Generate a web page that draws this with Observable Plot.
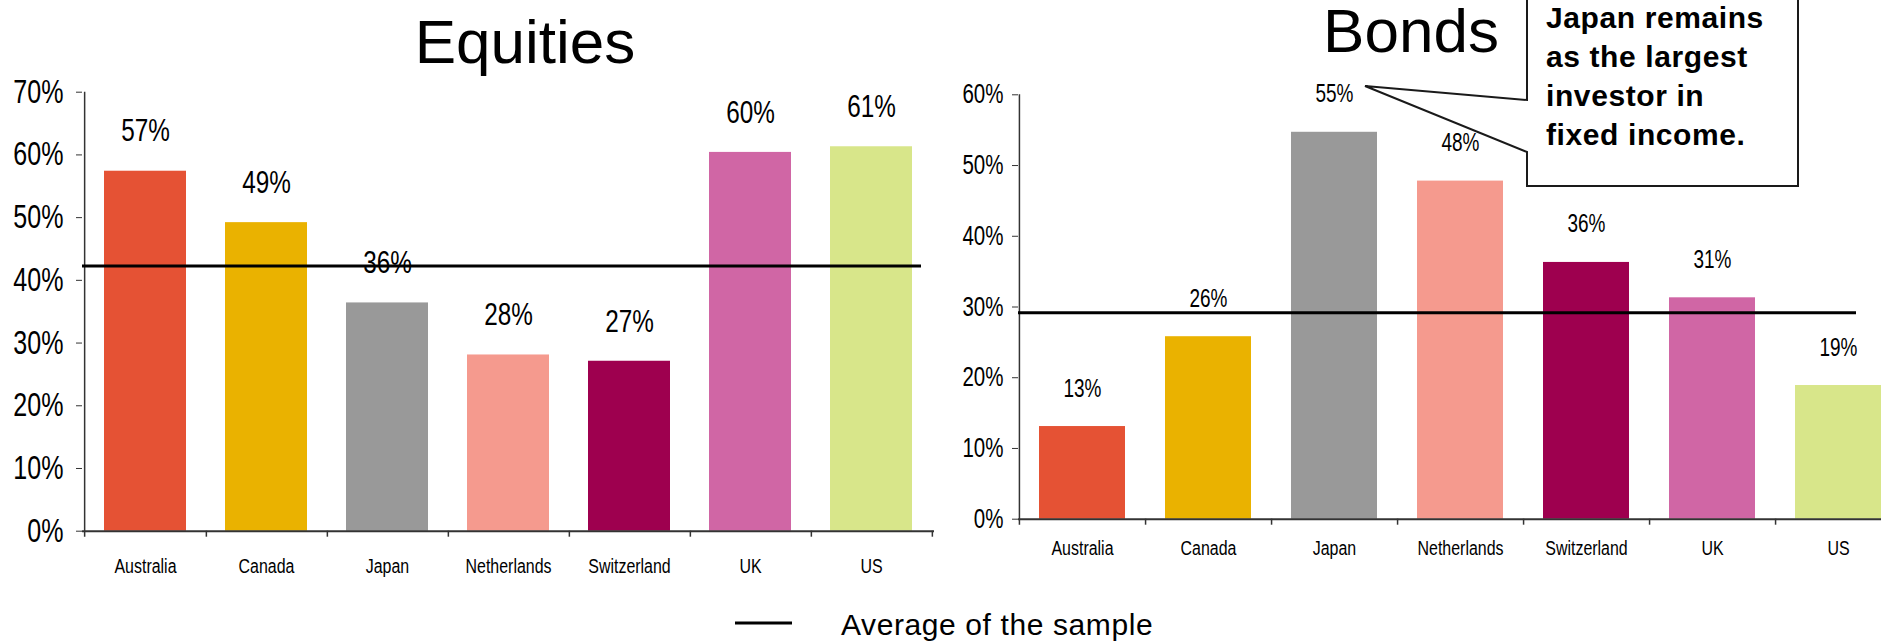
<!DOCTYPE html>
<html><head><meta charset="utf-8">
<script src="https://cdn.jsdelivr.net/npm/d3@7"></script>
<script src="https://cdn.jsdelivr.net/npm/@observablehq/plot@0.6"></script>
<style>
html,body{margin:0;padding:0;background:#fff;overflow:hidden;}
#wrap{position:relative;width:1881px;height:641px;overflow:hidden;background:#fff;}
.chart{position:absolute;top:0;height:641px;}
.chart svg{max-width:none !important;}
#overlay{position:absolute;left:0;top:0;}
</style></head><body>
<div id="wrap"><div id="eq" class="chart" style="left:0;width:940px"></div><div id="bd" class="chart" style="left:940px;width:961px"></div></div>
<script>
const countries = ["Australia","Canada","Japan","Netherlands","Switzerland","UK","US"];
const colors = ["#E55234","#EAB200","#999999","#F59A8E","#9E004F","#D066A5","#D8E68A"];
const equities = [57.4, 49.2, 36.4, 28.1, 27.1, 60.4, 61.3];
const bonds = [13.1, 25.8, 54.7, 47.8, 36.3, 31.3, 18.9];
const equitiesAvg = 42.3;
const bondsAvg = 29.2;
const equitiesTicks = [0, 10, 20, 30, 40, 50, 60, 70];
const bondsTicks = [0, 10, 20, 30, 40, 50, 60];
const titles = ["Equities", "Bonds"];
const calloutLines = ["Japan remains", "as the largest", "investor in", "fixed income."];
const legendLabel = "Average of the sample";

const SANS = '"Liberation Sans",Arial,sans-serif';
const NARROW_SCALE = 0.76;

function narrowText(el, sx) {
  el.querySelectorAll("text").forEach(t => {
    const tr = t.getAttribute("transform");
    if (tr) t.setAttribute("transform", tr + ` scale(${sx},1)`);
    else {
      const x = +(t.getAttribute("x") || 0);
      t.setAttribute("transform", `translate(${x},0) scale(${sx},1) translate(${-x},0)`);
    }
  });
  return el;
}

function chart(o) {
  const data = countries.map((c, i) => ({country: c, value: o.values[i]}));
  const step = (o.width - o.ml - o.mr) / countries.length;
  const svg = Plot.plot({
    width: o.width, height: 641,
    marginLeft: o.ml, marginRight: o.mr, marginTop: o.mt, marginBottom: o.mb,
    x: {domain: countries, paddingInner: 0.32, paddingOuter: 0.16},
    y: {domain: [0, o.ymax]},
    color: {domain: countries, range: colors},
    style: {fontFamily: SANS, background: "transparent", color: "#000", overflow: "visible", maxWidth: "none"},
    marks: [
      Plot.barY(data, {x: "country", y: "value", fill: "country"}),
      Plot.ruleY([0], {stroke: "#333", strokeWidth: 2}),
      Plot.ruleX(countries, {x: d => d, dx: step / 2, y1: 0, y2: 0, insetBottom: -6, stroke: "#333", strokeWidth: 1.5}),
      Plot.ruleX([countries[0]], {x: d => d, dx: -step / 2, y1: o.ymax, y2: 0, insetBottom: -6, stroke: "#333", strokeWidth: 1.5}),
      Plot.axisY({ticks: o.ticks, tickFormat: d => d + "%", tickSize: 6, tickPadding: o.yPad, fontSize: o.yFont, stroke: "#333", label: null}),
      Plot.axisX({tickSize: 0, tickPadding: o.xPad, fontSize: o.xFont, label: null}),
      Plot.text(data, {x: "country", y: "value", text: d => Math.round(d.value) + "%", dy: o.labelDy, fontSize: o.labelSize, fill: "#000"}),
      Plot.ruleY([o.avg], {stroke: "#000", strokeWidth: 3, insetRight: o.avgInset})
    ]
  });
  return narrowText(svg, NARROW_SCALE);
}

document.getElementById("eq").append(chart({
  values: equities, avg: equitiesAvg, ticks: equitiesTicks, ymax: 70,
  width: 940, ml: 82, mr: 6, mt: 91.7, mb: 110.3,
  yFont: 33, yPad: 13, xFont: 21, xPad: 27, labelSize: 32, labelDy: -40, avgInset: 13
}));
document.getElementById("bd").append(chart({
  values: bonds, avg: bondsAvg, ticks: bondsTicks, ymax: 60,
  width: 961, ml: 78, mr: 0, mt: 94.3, mb: 122.3,
  yFont: 27, yPad: 9, xFont: 21, xPad: 21, labelSize: 25, labelDy: -38, avgInset: 45
}));

// annotations overlay
const svg = d3.select("#wrap").append("svg").attr("id", "overlay")
  .attr("width", 1881).attr("height", 641);
svg.append("text").attr("x", 525).attr("y", 63).attr("text-anchor", "middle")
  .attr("font-family", SANS).attr("font-size", 62).text(titles[0]);
svg.append("text").attr("x", 1411).attr("y", 52).attr("text-anchor", "middle")
  .attr("font-family", SANS).attr("font-size", 62).text(titles[1]);
svg.append("path")
  .attr("d", "M1527,186 L1527,152 L1365,86 L1527,100 L1527,-5 L1798,-5 L1798,186 Z")
  .attr("fill", "#fff").attr("stroke", "#1a1a1a").attr("stroke-width", 2);
const ct = svg.append("text").attr("font-family", SANS).attr("font-weight", "bold")
  .attr("font-size", 30).attr("letter-spacing", 0.6);
calloutLines.forEach((l, i) => ct.append("tspan").attr("x", 1546).attr("y", 28 + i * 39).text(l));
svg.append("line").attr("x1", 735).attr("x2", 792).attr("y1", 623).attr("y2", 623)
  .attr("stroke", "#000").attr("stroke-width", 3);
svg.append("text").attr("x", 841).attr("y", 635).attr("font-family", SANS)
  .attr("font-size", 30).attr("letter-spacing", 0.6).text(legendLabel);
</script>
</body></html>
